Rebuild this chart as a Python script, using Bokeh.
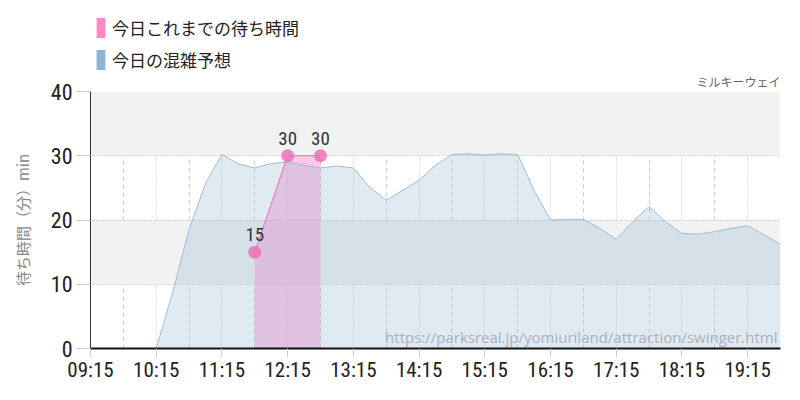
from bokeh.plotting import figure
from bokeh.layouts import column
from bokeh.models import (FixedTicker, Legend, LegendItem, Label, LabelSet,
                          ColumnDataSource, Range1d)
from bokeh.core.properties import value
from bokeh.embed import file_html
from bokeh.resources import INLINE

# ---- data ----
forecast_times = ["09:15", "09:30", "09:45", "10:00", "10:15", "10:30", "10:45",
                  "11:00", "11:15", "11:30", "11:45", "12:00", "12:15", "12:30",
                  "12:45", "13:00", "13:15", "13:30", "13:45", "14:00", "14:15",
                  "14:30", "14:45", "15:00", "15:15", "15:30", "15:45", "16:00",
                  "16:15", "16:30", "16:45", "17:00", "17:15", "17:30", "17:45",
                  "18:00", "18:15", "18:30", "18:45", "19:00", "19:15", "19:30",
                  "19:45"]
forecast_wait = [0, 0, 0, -0.2, 0, 8.7, 18.5,
                 25.7, 30.2, 28.7, 28.1, 28.8, 29.0, 28.5,
                 28.1, 28.4, 28.1, 25.1, 23.1, 24.6, 26.2,
                 28.5, 30.2, 30.3, 30.1, 30.3, 30.2, 24.6,
                 20.0, 20.1, 20.1, 18.7, 17.0, 19.7, 22.1,
                 19.7, 17.9, 17.8, 18.2, 18.7, 19.1, 17.7,
                 16.2]
actual_times = ["11:45", "12:15", "12:45"]
actual_wait = [15, 30, 30]
tick_labels = ["09:15", "10:15", "11:15", "12:15", "13:15", "14:15", "15:15",
               "16:15", "17:15", "18:15", "19:15"]
minor_labels = ["09:45", "10:45", "11:45", "12:45", "13:45", "14:45", "15:45",
                "16:45", "17:45", "18:45", "19:45"]
y_ticks = [0, 10, 20, 30, 40]

series_actual = "今日これまでの待ち時間"
series_forecast = "今日の混雑予想"
attraction = "ミルキーウェイ"
y_title = "待ち時間（分）min"
source_url = "https://parksreal.jp/yomiuriland/attraction/swinger.html"


def to_min(t):
    h, m = t.split(":")
    return int(h) * 60 + int(m)


fx = [to_min(t) for t in forecast_times]
ax = [to_min(t) for t in actual_times]
tick_pos = [to_min(t) for t in tick_labels]
minor_pos = [to_min(t) for t in minor_labels]

PINK = "#ff88c8"
BLUE = "#8fb4d3"
NARROW = "'Roboto Condensed','Liberation Sans Narrow','Arial Narrow','DejaVu Sans Condensed',Roboto,sans-serif"
JP = "'Noto Sans CJK JP','Noto Sans',sans-serif"

W = 784
HDR_H = 72

asrc = ColumnDataSource(dict(x=ax, y=actual_wait, lab=[str(v) for v in actual_wait]))
fsrc = ColumnDataSource(dict(x=fx, y=forecast_wait))

# ---------------- header with legend ----------------
# its x range lies outside the data, so the swatch renderers draw nothing there
hdr = figure(output_backend="svg", toolbar_location=None, width=W, height=HDR_H,
             x_axis_type=None, y_axis_type=None, min_border=0,
             x_range=Range1d(0, 1), y_range=Range1d(0, 1))
hdr.outline_line_color = None
hdr.grid.visible = False
sw_p = hdr.varea(x="x", y1=0, y2="y", source=asrc, fill_color=PINK, fill_alpha=1)
sw_b = hdr.varea(x="x", y1=0, y2="y", source=fsrc, fill_color=BLUE, fill_alpha=1)
legend = Legend(items=[LegendItem(label=series_actual, renderers=[sw_p]),
                       LegendItem(label=series_forecast, renderers=[sw_b])],
                location=(5, 0), orientation="vertical",
                glyph_width=11, glyph_height=25, label_height=25,
                label_standoff=6, spacing=7, padding=0, margin=0,
                border_line_color=None, background_fill_alpha=0,
                label_text_font=JP, label_text_font_size="17px",
                label_text_color="#222222")
hdr.add_layout(legend)

# ---------------- main chart ----------------
p = figure(output_backend="svg", toolbar_location=None,
           width=W, height=384 - HDR_H,
           x_range=Range1d(fx[0], fx[-1]), y_range=Range1d(0, 40),
           min_border_left=90, min_border_right=4, min_border_top=18,
           min_border_bottom=34, title=attraction)
p.outline_line_color = None
p.background_fill_color = "white"

p.title.align = "right"
p.title.text_font = JP
p.title.text_font_size = "12px"
p.title.text_font_style = "normal"
p.title.text_color = "#666666"
p.title.standoff = 0
p.title.offset = 0
p.title.vertical_align = "top"

# grids
p.ygrid.ticker = FixedTicker(ticks=y_ticks)
p.ygrid.grid_line_color = "#bbbbbb"
p.ygrid.grid_line_dash = "1 2"
p.ygrid.band_fill_color = "#f2f2f2"
p.ygrid.band_fill_alpha = 1
p.xgrid.ticker = FixedTicker(ticks=tick_pos, minor_ticks=minor_pos)
p.xgrid.grid_line_color = "#c4c4c4"
p.xgrid.grid_line_dash = "1 2"
p.xgrid.minor_grid_line_color = "#cccccc"
p.xgrid.minor_grid_line_dash = "4 4"

# axes
p.xaxis.ticker = FixedTicker(ticks=tick_pos)
p.xaxis.major_label_overrides = {pos: lab for pos, lab in zip(tick_pos, tick_labels)}
p.xaxis.axis_line_color = "#111111"
p.xaxis.axis_line_width = 2
p.xaxis.major_tick_line_color = "#cccccc"
p.xaxis.major_tick_out = 9
p.xaxis.major_tick_in = 0
p.xaxis.minor_tick_line_color = None
p.xaxis.major_label_standoff = 0
p.xaxis.major_label_text_font = NARROW
p.xaxis.major_label_text_font_size = "21px"
p.xaxis.major_label_text_color = "#222222"

p.yaxis.ticker = FixedTicker(ticks=y_ticks)
p.yaxis.axis_line_color = "#333333"
p.yaxis.major_tick_line_color = "#cccccc"
p.yaxis.major_tick_out = 14
p.yaxis.major_tick_in = 0
p.yaxis.minor_tick_line_color = None
p.yaxis.major_label_standoff = 4
p.yaxis.major_label_text_font = NARROW
p.yaxis.major_label_text_font_size = "22px"
p.yaxis.major_label_text_color = "#222222"
p.yaxis.axis_label = y_title
p.yaxis.axis_label_text_font = JP
p.yaxis.axis_label_text_font_size = "15px"
p.yaxis.axis_label_text_font_style = "normal"
p.yaxis.axis_label_text_color = "#888888"
p.yaxis.axis_label_standoff = 15

# areas: pink first, blue on top
p.varea(x="x", y1=0, y2="y", source=asrc, fill_color=PINK, fill_alpha=0.45)
p.varea(x="x", y1=0, y2="y", source=fsrc, fill_color=BLUE, fill_alpha=0.28)
p.line(x="x", y="y", source=fsrc, line_color="#9dbcd9", line_width=1)
p.line(x="x", y="y", source=asrc, line_color="#f068b4", line_width=1)
p.scatter(x="x", y="y", source=asrc, size=13, fill_color="#f070b8",
          fill_alpha=0.85, line_color=None)
p.add_layout(LabelSet(x="x", y="y", text="lab", source=asrc, y_offset=11,
                      text_align="center", text_baseline="alphabetic",
                      text_font=value(NARROW), text_font_size=value("19px"),
                      text_color=value("#333333")))

# watermark
p.add_layout(Label(x=fx[-1], y=0, x_offset=-3, y_offset=2, text=source_url,
                   text_align="right", text_baseline="bottom",
                   text_font="'Open Sans',sans-serif", text_font_size="15px",
                   text_color="#a9b0b8"))

layout = column(hdr, p, spacing=0)
open("out.html", "w").write(file_html(layout, INLINE))
